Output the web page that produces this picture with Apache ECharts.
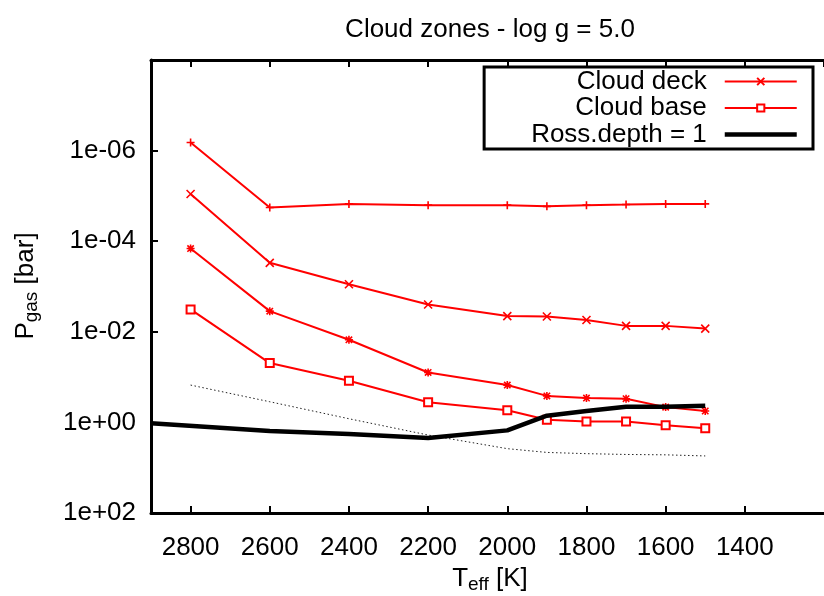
<!DOCTYPE html>
<html>
<head>
<meta charset="utf-8">
<script src="https://cdn.jsdelivr.net/npm/echarts@6/dist/echarts.min.js"></script>
<style>
  html, body { margin: 0; padding: 0; background: #ffffff; }
  #chart { width: 824px; height: 596px; }
</style>
</head>
<body>
<div id="chart"></div>
<script>
// Effective temperatures of the model grid [K]
const temps = [2800, 2600, 2400, 2200, 2000, 1900, 1800, 1700, 1600, 1500];

// Gas pressures [bar] of the cloud zone boundaries
const upperLayer = [6.6e-7, 1.8e-5, 1.5e-5, 1.6e-5, 1.6e-5, 1.7e-5, 1.6e-5, 1.55e-5, 1.5e-5, 1.5e-5];
const cloudDeck  = [9.1e-6, 3.0e-4, 8.9e-4, 2.5e-3, 4.5e-3, 4.6e-3, 5.5e-3, 7.4e-3, 7.4e-3, 8.5e-3];
const lowerLayer = [1.45e-4, 3.5e-3, 1.5e-2, 7.9e-2, 0.15, 0.26, 0.29, 0.30, 0.46, 0.56];
const cloudBase  = [3.2e-3, 4.9e-2, 0.12, 0.36, 0.54, 0.87, 0.95, 0.95, 1.15, 1.35];

// Rosseland optical depth = 1 level
const rossTemps = [2900, 2600, 2400, 2200, 2000, 1900, 1800, 1700, 1600, 1500];
const rossDepth = [1.05, 1.55, 1.8, 2.2, 1.5, 0.71, 0.56, 0.45, 0.45, 0.43];

// Thin dotted reference level
const refLevel = [0.15, 0.35, 0.83, 1.9, 3.8, 4.6, 4.9, 5.1, 5.2, 5.5];

const legendNames = ['Cloud deck', 'Cloud base', 'Ross.depth = 1'];

const FONT = 'Liberation Sans, Arial, sans-serif';
const FS = 26;
const RED = '#ff0000';

const plusSym  = 'path://M0,5L10,5M5,0L5,10';
const crossSym = 'path://M0,0L10,10M10,0L0,10';
const starSym  = 'path://M0,5L10,5M5,0L5,10M1,1L9,9M9,1L1,9';

function pairs(xs, ys) { return xs.map((x, i) => [x, ys[i]]); }

// 1e-06 style labels for the pressure axis
function expLabel(v) {
  const e = Math.round(Math.log10(v));
  if (e === -8) return '';
  const s = e < 0 ? '-' : '+';
  const a = Math.abs(e);
  return '1e' + s + (a < 10 ? '0' + a : a);
}

function redSeries(name, ys, symbol, size) {
  return {
    name: name,
    type: 'line',
    data: pairs(temps, ys),
    symbol: symbol,
    symbolSize: size,
    symbolKeepAspect: true,
    showSymbol: true,
    lineStyle: { color: RED, width: 2, type: 'solid' },
    itemStyle: { color: RED, borderColor: RED, borderWidth: 1.6 },
    emphasis: { disabled: true },
    z: 3
  };
}

const xBase = {
  type: 'value',
  min: 1200,
  max: 2900,
  interval: 200,
  inverse: true,
  splitLine: { show: false },
  axisLine: { show: true, onZero: false, lineStyle: { color: '#000', width: 3 } },
  axisTick: { show: true, inside: true, length: 7, lineStyle: { color: '#000', width: 2 } }
};

const chart = echarts.init(document.getElementById('chart'), null, { renderer: 'canvas' });

chart.setOption({
  animation: false,
  backgroundColor: '#ffffff',
  grid: { left: 151, top: 60, width: 721, height: 453, containLabel: false },
  xAxis: [
    Object.assign({}, xBase, {
      position: 'bottom',
      axisLabel: {
        show: true, margin: 22, fontSize: FS, color: '#000', fontFamily: FONT,
        showMaxLabel: false, showMinLabel: false,
        formatter: v => String(v)
      }
    }),
    Object.assign({}, xBase, {
      position: 'top',
      axisLabel: { show: false }
    })
  ],
  yAxis: {
    type: 'log',
    logBase: 10,
    min: 1e-8,
    max: 1e2,
    interval: 2,
    inverse: true,
    splitLine: { show: false },
    minorTick: { show: false },
    axisLine: { show: true, onZero: false, lineStyle: { color: '#000', width: 3 } },
    axisTick: { show: true, inside: true, length: 7, lineStyle: { color: '#000', width: 2 } },
    axisLabel: { margin: 15, fontSize: FS, color: '#000', fontFamily: FONT, formatter: expLabel }
  },
  legend: {
    data: [
      { name: legendNames[0] },
      { name: legendNames[1] },
      { name: legendNames[2], itemStyle: { opacity: 0 }, lineStyle: { width: 4.5, color: '#000' } }
    ],
    orient: 'vertical',
    align: 'right',
    right: 11,
    top: 67,
    padding: [1.5, 14, 1.5, 47],
    itemGap: 0.5,
    itemWidth: 72,
    itemHeight: 9,
    borderColor: '#000',
    borderWidth: 3,
    borderRadius: 0,
    selectedMode: false,
    textStyle: { fontSize: FS, color: '#000', fontFamily: FONT, padding: [0, 13, 0, 0] }
  },
  graphic: [
    {
      type: 'text', x: 490, y: 30,
      style: { text: 'Cloud zones - log g = 5.0', fontSize: FS, fontFamily: FONT, fill: '#000', align: 'center', verticalAlign: 'middle' }
    },
    {
      type: 'text', x: 490, y: 579,
      style: {
        text: '{m|T}{s|eff}{m| [K]}',
        align: 'center', verticalAlign: 'middle',
        rich: {
          m: { fontSize: FS, fontFamily: FONT, fill: '#000' },
          s: { fontSize: 19, fontFamily: FONT, fill: '#000', padding: [12, 0, 0, 0] }
        }
      }
    },
    {
      type: 'text', x: 26, y: 286, rotation: Math.PI / 2,
      style: {
        text: '{m|P}{s|gas}{m| [bar]}',
        align: 'center', verticalAlign: 'middle',
        rich: {
          m: { fontSize: FS, fontFamily: FONT, fill: '#000' },
          s: { fontSize: 19, fontFamily: FONT, fill: '#000', padding: [12, 0, 0, 0] }
        }
      }
    }
  ],
  series: [
    redSeries('Cloud deck', cloudDeck, crossSym, 8),
    redSeries('Cloud base', cloudBase, 'emptyRect', 8),
    redSeries('upper', upperLayer, plusSym, 8),
    redSeries('lower', lowerLayer, starSym, 8),
    {
      name: 'reference',
      type: 'line',
      data: pairs(temps, refLevel),
      showSymbol: false,
      symbol: 'none',
      lineStyle: { color: '#222', width: 1, type: [1.5, 2.5] },
      emphasis: { disabled: true },
      z: 2
    },
    {
      name: 'Ross.depth = 1',
      type: 'line',
      data: pairs(rossTemps, rossDepth),
      showSymbol: false,
      symbol: 'none',
      lineStyle: { color: '#000', width: 4.5 },
      itemStyle: { color: '#000' },
      emphasis: { disabled: true },
      z: 4
    }
  ]
});
</script>
</body>
</html>
